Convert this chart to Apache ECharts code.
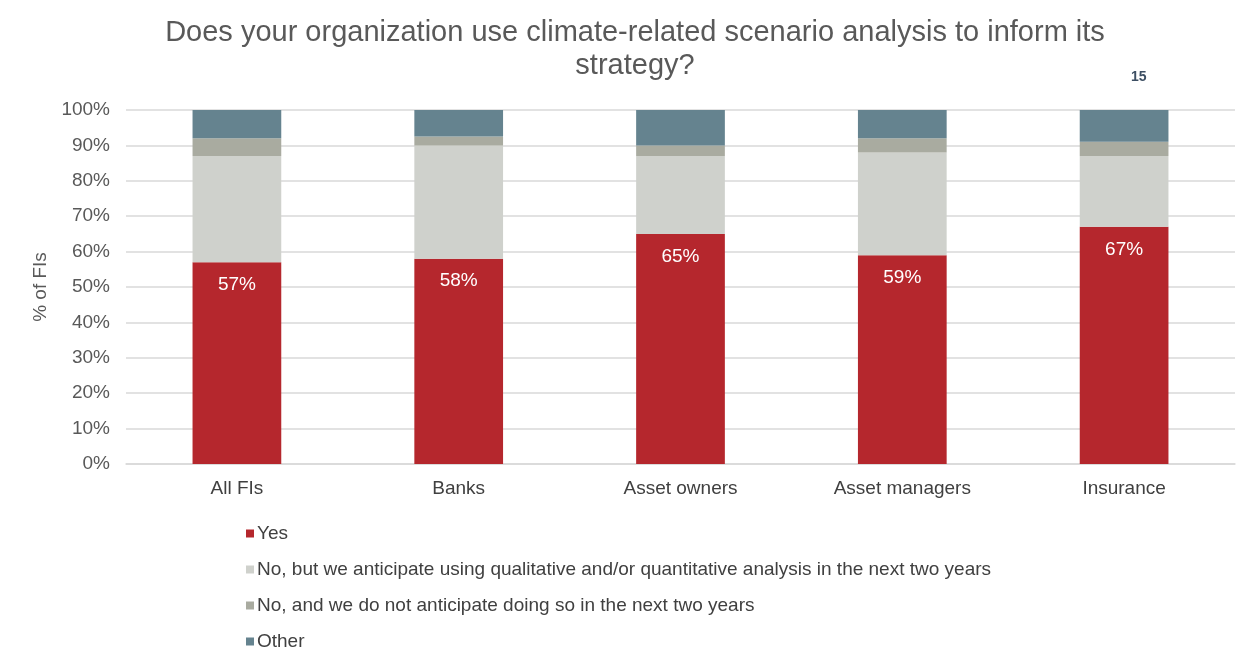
<!DOCTYPE html>
<html><head><meta charset="utf-8">
<script src="https://cdn.jsdelivr.net/npm/echarts@6/dist/echarts.min.js"></script>
<style>html,body{margin:0;padding:0;background:#fff;}#c{width:1250px;height:652px;}</style>
</head><body><div id="c"></div>
<script>
const categories = ["All FIs", "Banks", "Asset owners", "Asset managers", "Insurance"];
const yesValues = [57, 58, 65, 59, 67];
const noButValues = [30, 32, 22, 29, 20];
const noNotValues = [5, 2.5, 3, 4, 4];
const otherValues = [8, 7.5, 10, 8, 9];
const seriesNames = ["Yes", "No, but we anticipate using qualitative and/or quantitative analysis in the next two years", "No, and we do not anticipate doing so in the next two years", "Other"];
const yTicks = [0, 10, 20, 30, 40, 50, 60, 70, 80, 90, 100];

const chart = echarts.init(document.getElementById('c'), null, {renderer: 'canvas'});
const font = 'Liberation Sans, Arial, sans-serif';
const colors = ['#b5272d', '#cfd1cc', '#a9aba0', '#65838f'];
const dataSets = [yesValues, noButValues, noNotValues, otherValues];
chart.setOption({
  animation: false,
  color: colors,
  title: [{
    text: 'Does your organization use climate-related scenario analysis to inform its\nstrategy?',
    left: 630, top: 11, textAlign: 'center',
    textStyle: {fontFamily: font, fontSize: 29, fontWeight: 'normal', color: '#595959', lineHeight: 33}
  }, {
    text: '15', left: 1126, top: 65,
    textStyle: {fontFamily: font, fontSize: 14, fontWeight: 'bold', color: '#3d4f63'}
  }],
  grid: {left: 126, right: 15, top: 110, bottom: 188, containLabel: false},
  legend: {
    orient: 'vertical', left: 241, top: 519, height: 160, itemGap: 17,
    itemWidth: 8, itemHeight: 8, icon: 'rect',
    data: seriesNames,
    textStyle: {fontFamily: font, fontSize: 19, color: '#404040', padding: [0,0,0,-2]}
  },
  xAxis: {
    type: 'category', data: categories,
    axisLine: {show: true, lineStyle: {color: '#d9d9d9', width: 1.5}},
    axisTick: {show: false},
    axisLabel: {fontFamily: font, fontSize: 19, color: '#404040', margin: 15}
  },
  yAxis: {
    type: 'value', min: 0, max: 100, interval: 10,
    name: '% of FIs', nameLocation: 'middle', nameGap: 74, nameRotate: 90,
    nameTextStyle: {fontFamily: font, fontSize: 19, color: '#595959'},
    axisLine: {show: false}, axisTick: {show: false},
    splitLine: {lineStyle: {color: '#d9d9d9', width: 1.5}},
    axisLabel: {fontFamily: font, fontSize: 19, color: '#595959', margin: 16,
      formatter: v => yTicks.includes(v) ? v + '%' : ''}
  },
  series: seriesNames.map((n, i) => ({
    name: n, type: 'bar', stack: 'total', barWidth: '40%',
    data: dataSets[i],
    label: i === 0 ? {show: true, position: 'insideTop', distance: 13, formatter: '{c}%',
      color: '#fff', fontFamily: font, fontSize: 19} : {show: false}
  }))
});
</script></body></html>
